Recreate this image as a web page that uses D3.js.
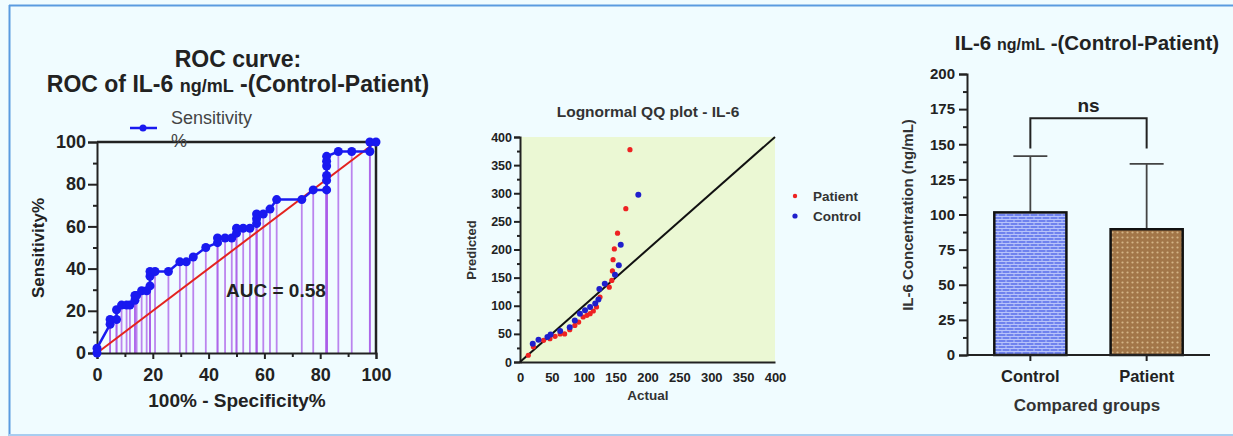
<!DOCTYPE html>
<html>
<head>
<meta charset="utf-8">
<script src="https://cdn.jsdelivr.net/npm/d3@7"></script>
<style>
  body { margin: 0; background: #f0fcff; }
  svg { display: block; font-family: "Liberation Sans", Arial, sans-serif; }
  .axis path, .axis line { stroke: #222; stroke-width: 2; }
  .axis text { fill: #222; font-weight: bold; font-family: "Liberation Sans", Arial, sans-serif; }
</style>
</head>
<body>
<script>
// ROC data (100% - specificity, sensitivity)
var rocX = [0, 0, 4.7, 4.7, 7, 7, 8.8, 10.6, 11.8, 13.6, 13.6, 14.2, 16, 17.8, 19, 19, 19, 20.8, 25.6, 29.7, 32, 34.5, 39, 43.2, 43.2, 45.9, 48.3, 50, 50, 52.4, 54.8, 57.2, 57.2, 57.2, 59.6, 62, 64.4, 73.4, 77.5, 82.3, 82.3, 82.3, 82.3, 82.3, 82.3, 86.5, 91.3, 97.8, 97.8, 100]
var rocY = [0, 2.3, 13.6, 15.9, 15.9, 20.5, 22.7, 22.7, 22.7, 25, 27.3, 27.3, 29.5, 29.5, 31.8, 36.4, 38.6, 38.6, 38.6, 43.2, 43.2, 45.5, 50, 52.3, 54.5, 54.5, 54.5, 56.8, 59.1, 59.1, 59.1, 61.4, 63.6, 65.9, 65.9, 68.2, 72.7, 72.7, 77.3, 77.3, 81.8, 84.1, 88.6, 90.9, 93.2, 95.5, 95.5, 95.5, 100, 100]
var rocTicks = [0, 20, 40, 60, 80, 100]
var aucText = 'AUC = 0.58'

// QQ plot data (actual, predicted)
var patientActual = [13, 21, 37, 47, 55, 63, 70, 78, 86, 92, 99, 105, 110, 115, 120, 125.5, 140, 144, 145, 146, 148, 153, 166, 172.5]
var patientPred = [12, 27, 38.5, 41.5, 45.6, 50, 50, 57.5, 65, 71, 80, 83, 86, 90.7, 98, 115.6, 133, 145, 162, 182, 201, 229, 272.6, 377.5]
var controlActual = [20, 29, 43, 48, 63, 78, 86, 94, 102, 110, 118, 123, 124.5, 133, 149, 155, 158, 185.6]
var controlPred = [32.6, 39.7, 44.4, 49, 55, 62, 74, 86, 92, 98, 104, 111, 130, 139, 155, 172, 208.6, 297.5]
var qqTicks = [0, 50, 100, 150, 200, 250, 300, 350, 400]

// Bar chart data
var groups = ['Control', 'Patient']
var means = [101.5, 89.5]
var upperErr = [141.5, 136]
var barTicks = [0, 25, 50, 75, 100, 125, 150, 175, 200]

var W = 1233, H = 436
var svg = d3.select('body').append('svg').attr('width', W).attr('height', H)

// frame
svg.append('rect').attr('x', 0).attr('y', 0).attr('width', W).attr('height', H).attr('fill', '#f0fcff')
svg.append('line').attr('x1', 9.5).attr('x2', 9.5).attr('y1', 5).attr('y2', 436).attr('stroke', '#5a9be0').attr('stroke-width', 2)
svg.append('line').attr('x1', 9).attr('x2', W).attr('y1', 5.5).attr('y2', 5.5).attr('stroke', '#5a9be0').attr('stroke-width', 2)
svg.append('line').attr('x1', 9).attr('x2', W).attr('y1', 435).attr('y2', 435).attr('stroke', '#a8cdf0').attr('stroke-width', 2)

// patterns
var defs = svg.append('defs')
var pBlue = defs.append('pattern').attr('id', 'brick').attr('patternUnits', 'userSpaceOnUse')
  .attr('width', 8).attr('height', 6)
pBlue.append('rect').attr('width', 8).attr('height', 6).attr('fill', '#6f82ee')
pBlue.append('line').attr('x1', 0).attr('x2', 8).attr('y1', 0.5).attr('y2', 0.5).attr('stroke', '#b8c4fa').attr('stroke-width', 1)
pBlue.append('line').attr('x1', 0).attr('x2', 8).attr('y1', 3.5).attr('y2', 3.5).attr('stroke', '#b8c4fa').attr('stroke-width', 1)
pBlue.append('line').attr('x1', 2).attr('x2', 2).attr('y1', 0).attr('y2', 3).attr('stroke', '#b8c4fa').attr('stroke-width', 1)
pBlue.append('line').attr('x1', 6).attr('x2', 6).attr('y1', 3).attr('y2', 6).attr('stroke', '#b8c4fa').attr('stroke-width', 1)
var pBrown = defs.append('pattern').attr('id', 'dots').attr('patternUnits', 'userSpaceOnUse')
  .attr('width', 5).attr('height', 5)
pBrown.append('rect').attr('width', 5).attr('height', 5).attr('fill', '#a27648')
pBrown.append('circle').attr('cx', 2.5).attr('cy', 2.5).attr('r', 1.1).attr('fill', '#d3b486')

// ===== ROC curve =====
var roc = { left: 97, right: 376, top: 142, bottom: 353 }
var rx = d3.scaleLinear().domain([0, 100]).range([roc.left, roc.right])
var ry = d3.scaleLinear().domain([0, 100]).range([roc.bottom, roc.top])

svg.append('text').attr('x', 238).attr('y', 67).attr('text-anchor', 'middle')
  .style('font-size', '23px').style('font-weight', 'bold').attr('fill', '#222').text('ROC curve:')
var t2 = svg.append('text').attr('x', 238).attr('y', 92).attr('text-anchor', 'middle')
  .style('font-size', '23px').style('font-weight', 'bold').attr('fill', '#222')
t2.append('tspan').text('ROC of IL-6 ')
t2.append('tspan').style('font-size', '18px').text('ng/mL')
t2.append('tspan').text(' -(Control-Patient)')

// drop lines
svg.append('g').selectAll('line').data(rocX.map(function (d, i) { return [d, rocY[i]] }))
  .enter().append('line')
  .attr('x1', function (d) { return rx(d[0]) }).attr('x2', function (d) { return rx(d[0]) })
  .attr('y1', function (d) { return ry(d[1]) }).attr('y2', ry(0))
  .attr('stroke', '#a95ce8').attr('stroke-opacity', 0.75).attr('stroke-width', 1.8)

// frame top / right
svg.append('line').attr('x1', rx(0)).attr('x2', rx(100)).attr('y1', ry(100)).attr('y2', ry(100)).attr('stroke', '#222').attr('stroke-width', 2.5)
svg.append('line').attr('x1', rx(100)).attr('x2', rx(100)).attr('y1', ry(100)).attr('y2', ry(0)).attr('stroke', '#222').attr('stroke-width', 2.5)

// diagonal
svg.append('line').attr('x1', rx(0)).attr('y1', ry(0)).attr('x2', rx(100)).attr('y2', ry(100))
  .attr('stroke', '#e3231f').attr('stroke-width', 2)

var rxAxis = svg.append('g').attr('class', 'axis').attr('transform', 'translate(0,' + roc.bottom + ')')
  .call(d3.axisBottom(rx).tickValues(rocTicks).tickSize(6).tickPadding(9))
rxAxis.selectAll('text').style('font-size', '18px')
svg.append('g').attr('class', 'axis').attr('transform', 'translate(0,' + roc.bottom + ')')
  .call(d3.axisBottom(rx).tickValues([10, 30, 50, 70, 90]).tickSize(4).tickFormat(''))
  .select('path').remove()
var ryAxis = svg.append('g').attr('class', 'axis').attr('transform', 'translate(' + roc.left + ',0)')
  .call(d3.axisLeft(ry).tickValues(rocTicks).tickSize(9).tickPadding(2))
ryAxis.selectAll('text').style('font-size', '18px')
svg.append('g').attr('class', 'axis').attr('transform', 'translate(' + roc.left + ',0)')
  .call(d3.axisLeft(ry).tickValues([10, 30, 50, 70, 90]).tickSize(4).tickFormat(''))
  .select('path').remove()

var rline = d3.line().x(function (d, i) { return rx(d) }).y(function (d, i) { return ry(rocY[i]) })
svg.append('path').datum(rocX).attr('d', rline).attr('fill', 'none').attr('stroke', '#1919f0').attr('stroke-width', 2.5)
svg.append('g').selectAll('circle').data(rocX).enter().append('circle')
  .attr('cx', function (d) { return rx(d) }).attr('cy', function (d, i) { return ry(rocY[i]) })
  .attr('r', 4.5).attr('fill', '#1919f0')

svg.append('text').attr('x', 226).attr('y', 297).style('font-size', '19px').style('font-weight', 'bold')
  .attr('fill', '#222').text(aucText)

// legend
svg.append('line').attr('x1', 130).attr('x2', 157).attr('y1', 128).attr('y2', 128).attr('stroke', '#1919f0').attr('stroke-width', 2.5)
svg.append('circle').attr('cx', 143).attr('cy', 128).attr('r', 3.5).attr('fill', '#1919f0')
svg.append('text').attr('x', 171).attr('y', 124).style('font-size', '18px').attr('fill', '#444').text('Sensitivity')
svg.append('text').attr('x', 171).attr('y', 147).style('font-size', '18px').attr('fill', '#444').text('%')

svg.append('text').attr('transform', 'translate(44,' + 248 + ') rotate(-90)').attr('text-anchor', 'middle')
  .style('font-size', '17px').style('font-weight', 'bold').attr('fill', '#222').text('Sensitivity%')
svg.append('text').attr('x', 237).attr('y', 407).attr('text-anchor', 'middle')
  .style('font-size', '19px').style('font-weight', 'bold').attr('fill', '#222').text('100% - Specificity%')

// ===== QQ plot =====
var qq = { left: 520, right: 775, top: 137, bottom: 362 }
var qx = d3.scaleLinear().domain([0, 400]).range([qq.left, qq.right])
var qy = d3.scaleLinear().domain([0, 400]).range([qq.bottom, qq.top])

svg.append('rect').attr('x', qq.left).attr('y', qq.top).attr('width', qq.right - qq.left).attr('height', qq.bottom - qq.top)
  .attr('fill', '#ebf8d4')
svg.append('text').attr('x', 648).attr('y', 117).attr('text-anchor', 'middle')
  .style('font-size', '15.5px').style('font-weight', 'bold').attr('fill', '#333').text('Lognormal QQ plot - IL-6')

var qxAxis = svg.append('g').attr('class', 'axis').attr('transform', 'translate(0,' + qq.bottom + ')')
  .call(d3.axisBottom(qx).tickValues(qqTicks).tickSize(0).tickPadding(11))
qxAxis.selectAll('text').style('font-size', '13px').attr('fill', '#333')
var qyAxis = svg.append('g').attr('class', 'axis').attr('transform', 'translate(' + qq.left + ',0)')
  .call(d3.axisLeft(qy).tickValues(qqTicks).tickSize(6).tickPadding(2))
qyAxis.selectAll('text').style('font-size', '12.5px').attr('fill', '#333')
svg.append('g').attr('class', 'axis').attr('transform', 'translate(' + qq.left + ',0)')
  .call(d3.axisLeft(qy).tickValues(d3.range(25, 400, 50)).tickSize(3).tickFormat(''))
  .select('path').remove()

svg.append('line').attr('x1', qx(0)).attr('y1', qy(0)).attr('x2', qx(400)).attr('y2', qy(400))
  .attr('stroke', '#111').attr('stroke-width', 2)

svg.append('g').selectAll('circle').data(patientActual).enter().append('circle')
  .attr('cx', function (d) { return qx(d) }).attr('cy', function (d, i) { return qy(patientPred[i]) })
  .attr('r', 2.6).attr('fill', '#ee2222')
svg.append('g').selectAll('circle').data(controlActual).enter().append('circle')
  .attr('cx', function (d) { return qx(d) }).attr('cy', function (d, i) { return qy(controlPred[i]) })
  .attr('r', 3).attr('fill', '#1f1fcc')

svg.append('circle').attr('cx', 795).attr('cy', 196).attr('r', 2.2).attr('fill', '#ee2222')
svg.append('circle').attr('cx', 795).attr('cy', 216).attr('r', 2.6).attr('fill', '#1f1fcc')
svg.append('text').attr('x', 813).attr('y', 201).style('font-size', '13.5px').style('font-weight', 'bold').attr('fill', '#333').text('Patient')
svg.append('text').attr('x', 813).attr('y', 221).style('font-size', '13.5px').style('font-weight', 'bold').attr('fill', '#333').text('Control')

svg.append('text').attr('x', 648).attr('y', 400).attr('text-anchor', 'middle')
  .style('font-size', '13.5px').style('font-weight', 'bold').attr('fill', '#333').text('Actual')
svg.append('text').attr('transform', 'translate(476,' + 250 + ') rotate(-90)').attr('text-anchor', 'middle')
  .style('font-size', '13px').style('font-weight', 'bold').attr('fill', '#333').text('Predicted')

// ===== Bar chart =====
var bc = { left: 967, right: 1210, top: 74, bottom: 355 }
var bx = d3.scaleBand().domain(groups).range([985, 1192]).paddingInner(0.38).paddingOuter(0.08)
var by = d3.scaleLinear().domain([0, 200]).range([bc.bottom, bc.top])

var tb = svg.append('text').attr('x', 1087).attr('y', 50).attr('text-anchor', 'middle')
  .style('font-size', '20.5px').style('font-weight', 'bold').attr('fill', '#222')
tb.append('tspan').text('IL-6 ')
tb.append('tspan').style('font-size', '16px').text('ng/mL')
tb.append('tspan').text(' -(Control-Patient)')

var byAxis = svg.append('g').attr('class', 'axis').attr('transform', 'translate(' + bc.left + ',0)')
  .call(d3.axisLeft(by).tickValues(barTicks).tickSize(8).tickPadding(4))
byAxis.selectAll('text').style('font-size', '15px')
svg.append('g').attr('class', 'axis').attr('transform', 'translate(' + bc.left + ',0)')
  .call(d3.axisLeft(by).tickValues(d3.range(12.5, 200, 25)).tickSize(4).tickFormat(''))
  .select('path').remove()

// error bars
svg.append('g').selectAll('line').data(groups).enter().append('line')
  .attr('x1', function (d) { return bx(d) + bx.bandwidth() / 2 }).attr('x2', function (d) { return bx(d) + bx.bandwidth() / 2 })
  .attr('y1', function (d, i) { return by(means[i]) }).attr('y2', function (d, i) { return by(upperErr[i]) })
  .attr('stroke', '#444').attr('stroke-width', 1.8)
svg.append('g').selectAll('line').data(groups).enter().append('line')
  .attr('x1', function (d) { return bx(d) + bx.bandwidth() / 2 - 17 }).attr('x2', function (d) { return bx(d) + bx.bandwidth() / 2 + 17 })
  .attr('y1', function (d, i) { return by(upperErr[i]) }).attr('y2', function (d, i) { return by(upperErr[i]) })
  .attr('stroke', '#444').attr('stroke-width', 1.8)

svg.append('g').selectAll('rect').data(groups).enter().append('rect')
  .attr('x', function (d) { return bx(d) }).attr('width', bx.bandwidth())
  .attr('y', function (d, i) { return by(means[i]) }).attr('height', function (d, i) { return by(0) - by(means[i]) })
  .attr('fill', function (d, i) { return i === 0 ? 'url(#brick)' : 'url(#dots)' })
  .attr('stroke', '#111').attr('stroke-width', 2.5)

var bxAxis = svg.append('g').attr('class', 'axis').attr('transform', 'translate(0,' + bc.bottom + ')')
  .call(d3.axisBottom(bx).tickSize(6).tickPadding(9))
bxAxis.select('path').attr('d', 'M' + (bc.left) + ',0H' + bc.right)
bxAxis.selectAll('text').style('font-size', '16.5px').attr('fill', '#333')

// significance bracket
var c1 = bx('Control') + bx.bandwidth() / 2, c2 = bx('Patient') + bx.bandwidth() / 2
svg.append('path').attr('d', 'M' + c1 + ',' + by(147) + 'V' + by(168.5) + 'H' + c2 + 'V' + by(147))
  .attr('fill', 'none').attr('stroke', '#222').attr('stroke-width', 2)
svg.append('text').attr('x', (c1 + c2) / 2).attr('y', by(173)).attr('text-anchor', 'middle')
  .style('font-size', '19px').style('font-weight', 'bold').attr('fill', '#222').text('ns')

svg.append('text').attr('x', 1087).attr('y', 411).attr('text-anchor', 'middle')
  .style('font-size', '17px').style('font-weight', 'bold').attr('fill', '#333').text('Compared groups')
svg.append('text').attr('transform', 'translate(913,' + 215 + ') rotate(-90)').attr('text-anchor', 'middle')
  .style('font-size', '15px').style('font-weight', 'bold').attr('fill', '#333').text('IL-6 Concentration (ng/mL)')
</script>
</body>
</html>
